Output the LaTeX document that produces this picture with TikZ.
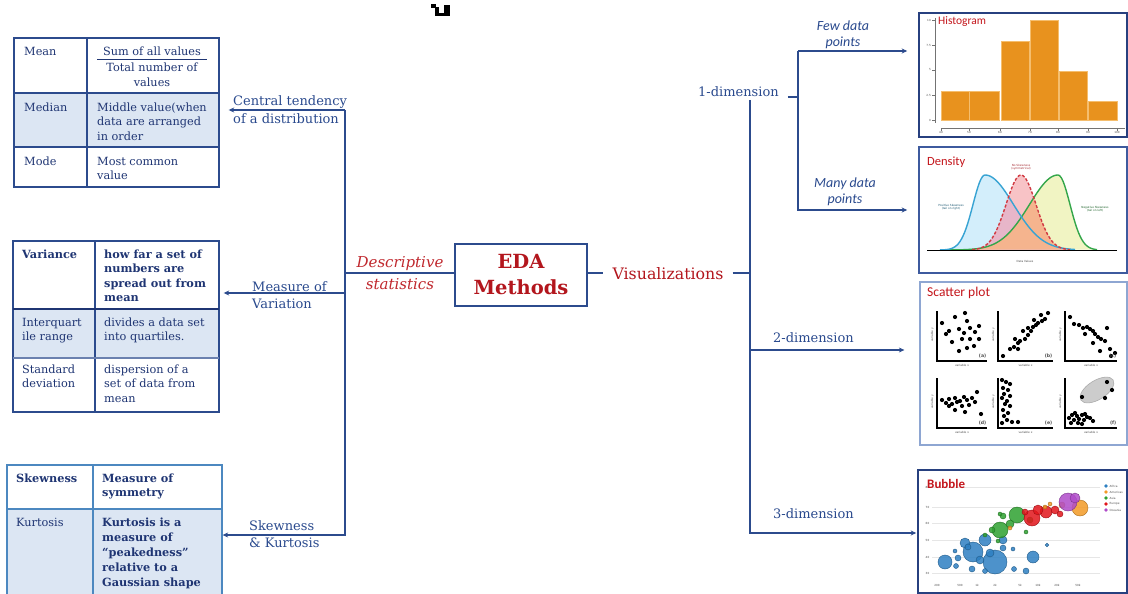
\documentclass[tikz,border=0pt]{standalone}
\usepackage{fontspec}
\setmainfont{DejaVu Serif}
\newfontfamily\plotfont{Carlito}
\newfontfamily\microfont{DejaVu Sans}
\usetikzlibrary{arrows.meta,calc}

\definecolor{lineblue}{HTML}{2C4B8D}
\definecolor{navy}{HTML}{1F3573}
\definecolor{labelblue}{HTML}{2A4A8E}
\definecolor{edared}{HTML}{B3161D}
\definecolor{softred}{HTML}{C0282E}
\definecolor{cellshade}{HTML}{DCE6F3}
\definecolor{tealedge}{HTML}{4C88C0}
\definecolor{panelnavy}{HTML}{27407F}
\definecolor{panelmid}{HTML}{3D5A9E}
\definecolor{panelsoft}{HTML}{8EA6D2}
\definecolor{titlered}{HTML}{C4161C}
\definecolor{barfill}{HTML}{E8921E}
\definecolor{baredge}{HTML}{F5BE6E}
\definecolor{skewblue}{HTML}{37A3D3}
\definecolor{skewbluefill}{HTML}{D3EEFB}
\definecolor{skewred}{HTML}{D13A42}
\definecolor{skewredfill}{HTML}{F8C3C6}
\definecolor{skewgreen}{HTML}{34A64A}
\definecolor{skewgreenfill}{HTML}{F1F4C3}
\definecolor{overlaporange}{HTML}{F5B48E}
\definecolor{overlapmauve}{HTML}{E7B6C9}
\definecolor{bubblue}{HTML}{2E80C2}
\definecolor{bubgreen}{HTML}{2FA131}
\definecolor{bubred}{HTML}{E2161C}
\definecolor{buborange}{HTML}{F39A26}
\definecolor{bubpurple}{HTML}{B04CC9}
\definecolor{gridgray}{HTML}{E6E6E6}

% density curves (skewed Gaussians), x and y in pt
\def\blueexpr{250-75*exp(-(((\x-985)/10)^2)/(\x<985?2.88:16.24))}
\def\redexpr{250-75*exp(-(((\x-1021)/10)^2)/4.5)}
\def\greenexpr{250-75*exp(-(((\x-1058)/10)^2)/(\x<1058?16.24:2.88))}

% one small scatter plot: origin x, origin y, axis length, tag, points
\newcommand\scatterpanel[5]{%
  \begin{scope}[shift={(#1,#2)}]
    \foreach \a/\b in {#5} \fill[black] (\a,-\b) circle (2.1);
    \draw[black, line width=1.9pt] (0,-50) -- (0,0) -- (#3,0);
    \node[microtext, font=\microfont\bfseries\fontsize{4.6}{5}\selectfont, anchor=south east] (sc#4tag) at (#3,-2) {(#4)};
    \node[microtext, anchor=north] (sc#4x) at (#3/2,2.5) {variable x};
    \node[microtext, rotate=90, anchor=south] (sc#4y) at (-2.5,-26) {variable y};
  \end{scope}}

\begin{document}
\begin{tikzpicture}[x=1pt,y=-1pt,
  conn/.style={draw=lineblue, line width=1.3pt},
  arr/.style={conn, -{Stealth[length=5.5pt,width=5pt]}},
  cell/.style={text=navy, font=\fontsize{11.3}{14.5}\selectfont, inner sep=0pt, anchor=base west, align=left},
  boldcell/.style={cell, font=\fontsize{11.3}{14.5}\selectfont\bfseries},
  lbl/.style={text=labelblue, font=\fontsize{13}{17.5}\selectfont, inner sep=0pt, anchor=base west, align=left},
  branchlbl/.style={text=labelblue, font=\plotfont\itshape\fontsize{14}{15.5}\selectfont, inner sep=0pt, anchor=base, align=center},
  tablebox/.style={draw=lineblue, line width=1.4pt, inner sep=0pt},
  panel/.style={draw=panelnavy, line width=1.6pt, inner sep=0pt},
  ptitle/.style={text=titlered, font=\plotfont\fontsize{11.5}{12}\selectfont, inner sep=0pt, anchor=base west},
  microtext/.style={font=\microfont\fontsize{2.8}{3.2}\selectfont, inner sep=0.5pt, text=black!70, align=center},
]
\useasboundingbox (0,0) rectangle (1128,594);
\fill[white] (0,0) rectangle (1128,594);

% small black mark at the top edge
\fill[black] (431,4) rectangle (436,8);
\fill[black] (435,7) rectangle (439,16);
\fill[black] (435,13) rectangle (450,16);
\fill[black] (444,5) rectangle (450,16);

% note: multi-line nodes below are placed by the baseline of their last line

%================ central tendency table
\fill[cellshade] (14,93) rectangle (219,147);
\node[tablebox, minimum width=205pt, minimum height=149pt] (tabCT) at (116.5,112.5) {};
\draw[lineblue, line width=1.3pt] (87,38) -- (87,187);
\draw[lineblue, line width=2pt] (14,93) -- (219,93) (14,147) -- (219,147);
\node[cell] (cMean) at (24,56) {Mean};
\node[cell, anchor=base] (cSum) at (152,56) {Sum of all values};
\draw[navy, line width=0.9pt] (97,59) -- (207,59);
\node[cell, anchor=base, align=center] (cTot) at (152,86.5) {Total number of\\values};
\node[cell] (cMed) at (24,111) {Median};
\node[cell] (cMedD) at (97,140) {Middle value(when\\data are arranged\\in order};
\node[cell] (cMode) at (24,165) {Mode};
\node[cell] (cModeD) at (97,179.5) {Most common\\value};

%================ variation table
\fill[cellshade] (13,309) rectangle (219,358);
\node[tablebox, minimum width=206pt, minimum height=171pt] (tabMV) at (116,326.5) {};
\draw[lineblue, line width=1.3pt] (95,241) -- (95,412);
\draw[navy, line width=2.2pt] (13,309) -- (219,309);
\draw[lineblue!70, line width=1.2pt] (13,358) -- (219,358);
\node[boldcell] (cVar) at (22,258) {Variance};
\node[boldcell] (cVarD) at (104,301.5) {how far a set of\\numbers are\\spread out from\\mean};
\node[cell] (cIqr) at (22,340.5) {Interquart\\ile range};
\node[cell] (cIqrD) at (104,340.5) {divides a data set\\into quartiles.};
\node[cell] (cSd) at (22,387.5) {Standard\\deviation};
\node[cell] (cSdD) at (104,402) {dispersion of a\\set of data from\\mean};

%================ shape table (runs off the bottom edge)
\begin{scope}
  \clip (0,0) rectangle (1128,594);
  \fill[cellshade] (7,509) rectangle (222,598);
  \node[tablebox, draw=tealedge, line width=1.3pt, minimum width=215pt, minimum height=133pt] (tabSK) at (114.5,531.5) {};
  \draw[tealedge, line width=1.3pt] (93,465) -- (93,598) (7,509) -- (222,509);
\end{scope}
\node[boldcell] (cSkew) at (16,482) {Skewness};
\node[boldcell] (cSkewD) at (102,496.5) {Measure of\\symmetry};
\node[cell] (cKurt) at (16,526) {Kurtosis};
\node[boldcell, font=\fontsize{11.3}{15.2}\selectfont\bfseries] (cKurtD) at (102,586.8) {Kurtosis is a\\measure of\\``peakedness''\\relative to a\\Gaussian shape};

%================ centre box
\node[draw=lineblue, line width=1.4pt, minimum width=132pt, minimum height=62pt, inner sep=0pt,
      text=edared, font=\fontsize{19.5}{26}\selectfont\bfseries, align=center] (eda) at (521,275) {EDA\\Methods};

%================ descriptive statistics branch
\coordinate (sCT) at (345,110);
\coordinate (sDS) at (345,273);
\coordinate (sMV) at (345,293);
\coordinate (sSK) at (345,535);
\draw[arr] (sCT) -- (sSK) -- (tabSK.east |- sSK);
\draw[arr, shorten >=9pt] (sCT) -- (tabCT.east |- sCT);
\draw[arr, shorten >=4pt] (sMV) -- (tabMV.east |- sMV);
\draw[conn] (sDS) -- (eda.west |- sDS);
\node[lbl] (lCT) at (233,123.5) {Central tendency\\of a distribution};
\node[lbl] (lMV) at (252,308.5) {Measure of\\Variation};
\node[lbl] (lSK) at (249,547.5) {Skewness\\\& Kurtosis};
\node[text=softred, font=\itshape\fontsize{15}{22}\selectfont, align=center, inner sep=0pt, anchor=base] (lDesc) at (400,289) {Descriptive\\statistics};

%================ visualisation branch
\node[text=edared, font=\fontsize{15.8}{17}\selectfont, inner sep=0pt] (lVis) at (668,273.5) {Visualizations};
\coordinate (rTop) at (750,100);
\coordinate (rVis) at (750,273);
\coordinate (r2) at (750,350);
\coordinate (r3) at (750,533);
\draw[conn, shorten >=9pt] (eda.east |- rVis) -- (lVis.west |- rVis);
\draw[conn, shorten <=9pt] (lVis.east |- rVis) -- (rVis);

\node[panel, minimum width=208pt, minimum height=124pt] (pHist) at (1023,75) {};
\node[panel, draw=panelmid, minimum width=208pt, minimum height=126pt] (pDens) at (1023,210) {};
\node[panel, draw=panelsoft, line width=1.3pt, minimum width=207pt, minimum height=163pt] (pScat) at (1023.5,363.5) {};
\node[panel, minimum width=209pt, minimum height=123pt] (pBub) at (1022.5,531.5) {};

\draw[arr, shorten >=1pt] (rTop) -- (r3) -- (pBub.west |- r3);
\draw[arr, shorten >=15pt] (r2) -- (pScat.west |- r2);
\node[lbl] (l1d) at (698,96) {1-dimension};
\node[lbl] (l2d) at (773,342) {2-dimension};
\node[lbl] (l3d) at (773,518) {3-dimension};

\coordinate (b1) at (798,97);
\coordinate (b1top) at (798,51);
\coordinate (b1bot) at (798,210);
\draw[conn, shorten <=9pt] (l1d.east |- b1) -- (b1);
\draw[arr, shorten >=11pt] (b1top) -- (b1bot) -- (pDens.west |- b1bot);
\draw[arr, shorten >=11pt] (b1top) -- (pHist.west |- b1top);
\node[branchlbl] (lFew) at (843,46.5) {Few data\\points};
\node[branchlbl] (lMany) at (845,203) {Many data\\points};

%================ histogram
\node[ptitle] (tHist) at (938,25) {Histogram};
\draw[black!55, line width=0.6pt] (935,18) -- (935,123);
\foreach \yy/\t [count=\i] in {20/10,45/7.5,70/5,95/2.5,120/0} {
  \draw[black!55, line width=0.5pt] (932,\yy) -- (935,\yy);
  \node[microtext, anchor=east] (hy\i) at (931.5,\yy) {\t};
}
\draw[black!55, line width=0.6pt] (941,128) -- (1125,128);
\foreach \xx/\t [count=\i] in {941/40,969/50,1000/60,1030/70,1058/80,1088/90,1117/100} {
  \draw[black!55, line width=0.5pt] (\xx,128) -- (\xx,131);
  \node[microtext, anchor=north] (hx\i) at (\xx,131) {\t};
}
\foreach \xa/\xb/\tp in {941/969/91, 969/999/91, 1001/1029/41, 1030/1058/20, 1059/1087/71, 1088/1117/101}
  \filldraw[fill=barfill, draw=baredge, line width=0.8pt] (\xa,\tp) rectangle (\xb,120);

%================ density
\node[ptitle, font=\plotfont\fontsize{12.5}{13}\selectfont] (tDens) at (927,165) {Density};
\fill[skewgreenfill] plot[domain=945:1097, samples=90, smooth] (\x,{\greenexpr}) -- cycle;
\fill[skewbluefill] plot[domain=940:1075, samples=90, smooth] (\x,{\blueexpr}) -- cycle;
\fill[skewredfill] plot[domain=972:1070, samples=70, smooth] (\x,{\redexpr}) -- cycle;
\begin{scope}
  \clip plot[domain=972:1070, samples=70, smooth] (\x,{\redexpr}) -- cycle;
  \fill[overlapmauve] plot[domain=940:1075, samples=90, smooth] (\x,{\blueexpr}) -- cycle;
  \fill[overlaporange] plot[domain=945:1097, samples=90, smooth] (\x,{\greenexpr}) -- cycle;
\end{scope}
\draw[skewgreen, line width=1.4pt] plot[domain=945:1097, samples=90, smooth] (\x,{\greenexpr});
\draw[skewblue, line width=1.4pt] plot[domain=940:1075, samples=90, smooth] (\x,{\blueexpr});
\draw[skewred, line width=1.4pt, dash pattern=on 3pt off 1.8pt] plot[domain=972:1070, samples=70, smooth] (\x,{\redexpr});
\draw[black, line width=1.2pt] (927,250.5) -- (1117,250.5);
\node[microtext, text=skewblue!55!black] (dPos) at (951,207) {Positive Skewness\\(tail on right)};
\node[microtext, text=skewred!80!black] (dNone) at (1021,167) {No Skewness\\(symmetrical)};
\node[microtext, text=skewgreen!60!black] (dNeg) at (1095,209) {Negative Skewness\\(tail on left)};
\node[microtext] (dAxis) at (1025,261) {Data Values};

%================ scatter plots
\node[ptitle, font=\plotfont\fontsize{13.5}{14}\selectfont] (tScat) at (927,296) {Scatter plot};
\scatterpanel{937}{361}{50}{a}{5/38,18/44,28/48,30/40,12/30,22/32,33/33,42/35,15/19,25/22,33/22,42/22,22/10,30/13,37/15,27/28,38/29,9/27}
\scatterpanel{998}{361}{55}{b}{5/5,12/12,16/14,20/12,22/20,27/22,30/26,25/30,33/30,35/34,38/36,40/38,44/40,47/42,36/41,43/46,50/48,30/33,20/18,17/22}
\scatterpanel{1065}{361}{52}{c}{5/44,9/37,14/36,18/33,22/34,25/32,28/30,30/27,20/27,33/24,36/22,40/20,28/18,35/10,45/12,50/8,46/5,42/33}
\scatterpanel{937}{428}{50}{d}{5/28,9/25,12/29,15/24,18/30,20/26,23/27,25/22,27/31,30/28,32/23,35/30,38/26,40/36,18/18,28/16,44/14,12/22}
\scatterpanel{998}{428}{55}{e}{4/48,8/46,12/44,5/40,10/38,6/34,12/32,4/30,9/27,7/24,12/22,5/18,10/15,6/12,9/8,4/5,14/6,20/6}
\filldraw[fill=gray!40, draw=gray!65, line width=0.6pt] (1097,390) ellipse [x radius=19, y radius=9.5, rotate=32];
\scatterpanel{1065}{428}{52}{f}{4/10,7/13,9/8,12/12,14/9,17/13,19/8,22/11,25/10,13/5,6/5,17/4,28/7,10/15,20/14,42/46,47/38,17/31,40/30}

%================ bubble chart
\foreach \yy/\t [count=\i] in {487/80,507/70,523/60,540/50,557/40,573/30} {
  \draw[gridgray, line width=0.5pt] (932,\yy) -- (1100,\yy);
  \node[microtext, anchor=east] (by\i) at (930,\yy) {\t};
}
\foreach \xx/\t [count=\i] in {937/200,960/500,977/1k,995/2k,1020/5k,1038/10k,1057/20k,1078/50k}
  \node[microtext] (bx\i) at (\xx,585) {\t};
\node[ptitle, font=\plotfont\bfseries\fontsize{13}{14}\selectfont] (tBub) at (927,488) {Bubble};
\foreach \bx/\by/\br in {945/562/7, 973/552/10, 995/562/12, 965/543/5, 985/540/6, 1003/540/4, 1033/557/6, 958/558/3, 956/566/2.5, 972/569/3, 985/571/2.5, 1014/569/2.5, 1026/571/3, 1047/545/1.8, 1013/549/2, 990/553/4, 980/560/4, 968/547/3, 1003/548/3, 955/551/2}
  \filldraw[fill=bubblue, draw=bubblue!70!black, fill opacity=0.85, line width=0.4pt] (\bx,\by) circle (\br);
\foreach \bx/\by/\br in {1000/530/8, 1017/515/8, 1003/516/3, 985/535/2, 998/541/2, 1026/532/2, 992/530/3, 1010/524/4, 1030/520/3, 1000/514/2}
  \filldraw[fill=bubgreen, draw=bubgreen!70!black, fill opacity=0.85, line width=0.4pt] (\bx,\by) circle (\br);
\foreach \bx/\by/\br in {1032/518/8, 1046/512/6, 1038/510/5, 1055/510/4, 1060/514/3, 1025/512/3}
  \filldraw[fill=bubred, draw=bubred!70!black, fill opacity=0.85, line width=0.4pt] (\bx,\by) circle (\br);
\foreach \bx/\by/\br in {1080/508/8, 1062/505/3, 1045/507/2, 1010/528/2, 1050/504/2}
  \filldraw[fill=buborange, draw=buborange!70!black, fill opacity=0.85, line width=0.4pt] (\bx,\by) circle (\br);
\foreach \bx/\by/\br in {1068/502/9, 1075/498/5}
  \filldraw[fill=bubpurple, draw=bubpurple!70!black, fill opacity=0.85, line width=0.4pt] (\bx,\by) circle (\br);
\foreach \ly/\lc/\lt [count=\i] in {486/bubblue/Africa, 492/buborange/Americas, 498/bubgreen/Asia, 504/bubred/Europe, 510/bubpurple/Oceania} {
  \fill[\lc] (1106,\ly) circle (1.8);
  \node[microtext, anchor=west] (lg\i) at (1109,\ly) {\lt};
}
\end{tikzpicture}
\end{document}
